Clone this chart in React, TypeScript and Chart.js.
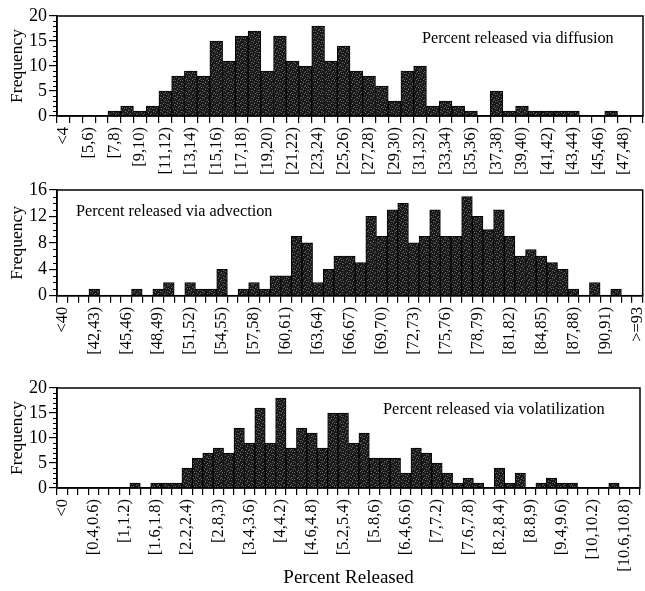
import React, { useEffect, useRef } from "react";
import { Chart, registerables } from "chart.js";

Chart.register(...registerables);

// ---------------- data ----------------
const diffusionCategories = [
  "<4", "[4,5)", "[5,6)", "[6,7)", "[7,8)", "[8,9)", "[9,10)", "[10,11)", "[11,12)", "[12,13)",
  "[13,14)", "[14,15)", "[15,16)", "[16,17)", "[17,18)", "[18,19)", "[19,20)", "[20,21)", "[21,22)",
  "[22,23)", "[23,24)", "[24,25)", "[25,26)", "[26,27)", "[27,28)", "[28,29)", "[29,30)", "[30,31)",
  "[31,32)", "[32,33)", "[33,34)", "[34,35)", "[35,36)", "[36,37)", "[37,38)", "[38,39)", "[39,40)",
  "[40,41)", "[41,42)", "[42,43)", "[43,44)", "[44,45)", "[45,46)", "[46,47)", "[47,48)", ">=48",
];
const diffusionCounts = [
  0, 0, 0, 0, 1, 2, 1, 2, 5, 8,
  9, 8, 15, 11, 16, 17, 9, 16, 11, 10,
  18, 11, 14, 9, 8, 6, 3, 9, 10, 2,
  3, 2, 1, 0, 5, 1, 2, 1, 1, 1,
  1, 0, 0, 1, 0, 0,
];

const advectionCategories = [
  "<40", "[40,41)", "[41,42)", "[42,43)", "[43,44)", "[44,45)", "[45,46)", "[46,47)", "[47,48)",
  "[48,49)", "[49,50)", "[50,51)", "[51,52)", "[52,53)", "[53,54)", "[54,55)", "[55,56)", "[56,57)",
  "[57,58)", "[58,59)", "[59,60)", "[60,61)", "[61,62)", "[62,63)", "[63,64)", "[64,65)", "[65,66)",
  "[66,67)", "[67,68)", "[68,69)", "[69,70)", "[70,71)", "[71,72)", "[72,73)", "[73,74)", "[74,75)",
  "[75,76)", "[76,77)", "[77,78)", "[78,79)", "[79,80)", "[80,81)", "[81,82)", "[82,83)", "[83,84)",
  "[84,85)", "[85,86)", "[86,87)", "[87,88)", "[88,89)", "[89,90)", "[90,91)", "[91,92)", "[92,93)",
  ">=93",
];
const advectionCounts = [
  0, 0, 0, 1, 0, 0, 0, 1, 0, 1,
  2, 0, 2, 1, 1, 4, 0, 1, 2, 1,
  3, 3, 9, 8, 2, 4, 6, 6, 5, 12,
  9, 13, 14, 8, 9, 13, 9, 9, 15, 12,
  10, 13, 9, 6, 7, 6, 5, 4, 1, 0,
  2, 0, 1, 0, 0,
];

const volatilizationCategories = [
  "<0", "[0,0.2)", "[0.2,0.4)", "[0.4,0.6)", "[0.6,0.8)", "[0.8,1)", "[1,1.2)", "[1.2,1.4)",
  "[1.4,1.6)", "[1.6,1.8)", "[1.8,2)", "[2,2.2)", "[2.2,2.4)", "[2.4,2.6)", "[2.6,2.8)", "[2.8,3)",
  "[3,3.2)", "[3.2,3.4)", "[3.4,3.6)", "[3.6,3.8)", "[3.8,4)", "[4,4.2)", "[4.2,4.4)", "[4.4,4.6)",
  "[4.6,4.8)", "[4.8,5)", "[5,5.2)", "[5.2,5.4)", "[5.4,5.6)", "[5.6,5.8)", "[5.8,6)", "[6,6.2)",
  "[6.2,6.4)", "[6.4,6.6)", "[6.6,6.8)", "[6.8,7)", "[7,7.2)", "[7.2,7.4)", "[7.4,7.6)", "[7.6,7.8)",
  "[7.8,8)", "[8,8.2)", "[8.2,8.4)", "[8.4,8.6)", "[8.6,8.8)", "[8.8,9)", "[9,9.2)", "[9.2,9.4)",
  "[9.4,9.6)", "[9.6,9.8)", "[9.8,10)", "[10,10.2)", "[10.2,10.4)", "[10.4,10.6)", "[10.6,10.8)",
  ">=10.8",
];
const volatilizationCounts = [
  0, 0, 0, 0, 0, 0, 0, 1, 0, 1,
  1, 1, 4, 6, 7, 8, 7, 12, 9, 16,
  9, 18, 8, 12, 11, 8, 15, 15, 9, 11,
  6, 6, 6, 3, 8, 7, 5, 3, 1, 2,
  1, 0, 4, 1, 3, 0, 1, 2, 1, 1,
  0, 0, 0, 1, 0, 0,
];

const panelTitles = [
  "Percent released via diffusion",
  "Percent released via advection",
  "Percent released via volatilization",
];
const yAxisTitle = "Frequency";
const xAxisTitle = "Percent Released";

// ---------------- styling ----------------
const SERIF = "'Liberation Serif', 'Times New Roman', serif";

function makeBarPattern(ctx: CanvasRenderingContext2D) {
  const c = document.createElement("canvas");
  c.width = 7;
  c.height = 7;
  const g = c.getContext("2d")!;
  g.fillStyle = "#181818";
  g.fillRect(0, 0, 7, 7);
  g.fillStyle = "#6a6a6a";
  const dots = [[1, 0], [4, 1], [0, 3], [5, 3], [2, 5], [6, 6], [3, 2]];
  dots.forEach(([x, y]) => g.fillRect(x, y, 1, 1));
  g.fillStyle = "#404040";
  [[6, 1], [2, 4], [4, 5], [0, 6]].forEach(([x, y]) => g.fillRect(x, y, 1, 1));
  return ctx.createPattern(c, "repeat");
}

type PanelSpec = {
  labels: string[];
  values: number[];
  every: number;
  yMax: number;
  yStep: number;
  padTop: number;
  padRight: number;
  xHeight: number;
  title: string;
  titleX: number;
  titleY: number;
  titleSize: number;
  showXTitle: boolean;
};

function buildConfig(canvas: HTMLCanvasElement, p: PanelSpec): any {
  const ctx = canvas.getContext("2d")!;
  const pattern = makeBarPattern(ctx);

  const framePlugin = {
    id: "frame" + p.title.length,
    afterDraw(chart: any) {
      const { ctx: c, chartArea: a, scales } = chart;
      c.save();
      c.strokeStyle = "#000";
      c.lineWidth = 1.5;
      c.strokeRect(a.left, a.top, a.right - a.left, a.bottom - a.top);
      const y = scales.y;
      c.lineWidth = 1;
      for (let v = 0; v <= p.yMax; v += 1) {
        if (v % p.yStep === 0) continue;
        const py = Math.round(y.getPixelForValue(v)) + 0.5;
        c.beginPath();
        c.moveTo(a.left - 4, py);
        c.lineTo(a.left, py);
        c.stroke();
      }
      c.fillStyle = "#000";
      c.font = `${p.titleSize}px ${SERIF}`;
      c.textAlign = "left";
      c.textBaseline = "alphabetic";
      c.fillText(p.title, p.titleX, p.titleY);
      c.restore();
    },
  };

  return {
    type: "bar",
    data: {
      labels: p.labels,
      datasets: [
        {
          data: p.values,
          backgroundColor: pattern,
          borderColor: "#000",
          borderWidth: 1,
          borderSkipped: "start",
          barPercentage: 1,
          categoryPercentage: 1,
        },
      ],
    },
    options: {
      responsive: false,
      animation: false,
      layout: { padding: { top: p.padTop, right: p.padRight, left: 0, bottom: 0 } },
      plugins: { legend: { display: false }, tooltip: { enabled: false } },
      scales: {
        x: {
          offset: true,
          grid: {
            display: true,
            drawOnChartArea: false,
            drawTicks: true,
            tickLength: 7,
            color: "#000",
            lineWidth: 1.2,
            offset: true,
          },
          border: { display: true, color: "#000", width: 1.5 },
          ticks: {
            autoSkip: false,
            minRotation: 90,
            maxRotation: 90,
            padding: 4,
            color: "#000",
            font: { family: SERIF, size: 16.5 },
            callback: (_v: any, i: number) => (i % p.every === 0 ? p.labels[i] : ""),
          },
          title: {
            display: p.showXTitle,
            text: xAxisTitle,
            color: "#000",
            font: { family: SERIF, size: 19 },
            padding: { top: 4, bottom: 2 },
          },
          afterFit: (s: any) => {
            s.height = p.xHeight;
            s.paddingLeft = 0;
            s.paddingRight = 0;
          },
        },
        y: {
          min: 0,
          max: p.yMax,
          ticks: {
            stepSize: p.yStep,
            autoSkip: false,
            padding: 2,
            color: "#000",
            font: { family: SERIF, size: 18 },
          },
          grid: {
            drawOnChartArea: false,
            drawTicks: true,
            tickLength: 8,
            color: "#000",
            lineWidth: 1.2,
          },
          border: { display: true, color: "#000", width: 1.5 },
          title: {
            display: true,
            text: yAxisTitle,
            color: "#000",
            font: { family: SERIF, size: 17.5 },
            padding: { top: 7, bottom: 0 },
          },
          afterFit: (s: any) => {
            s.width = 57;
            s.paddingTop = 0;
            s.paddingBottom = 0;
          },
        },
      },
    },
    plugins: [framePlugin],
  };
}

const PANELS: (PanelSpec & { top: number; height: number })[] = [
  {
    top: 0, height: 183,
    labels: diffusionCategories, values: diffusionCounts, every: 2,
    yMax: 20, yStep: 5, padTop: 16, padRight: 2, xHeight: 67,
    title: panelTitles[0], titleX: 422, titleY: 43, titleSize: 16.2, showXTitle: false,
  },
  {
    top: 180, height: 198,
    labels: advectionCategories, values: advectionCounts, every: 3,
    yMax: 16, yStep: 4, padTop: 10, padRight: 2.3, xHeight: 82.3,
    title: panelTitles[1], titleX: 76, titleY: 35.7, titleSize: 16.2, showXTitle: false,
  },
  {
    top: 378, height: 213,
    labels: volatilizationCategories, values: volatilizationCounts, every: 3,
    yMax: 20, yStep: 5, padTop: 10, padRight: 5, xHeight: 103,
    title: panelTitles[2], titleX: 383, titleY: 36.3, titleSize: 16.4, showXTitle: true,
  },
];

export default function App() {
  const r0 = useRef<HTMLCanvasElement>(null);
  const r1 = useRef<HTMLCanvasElement>(null);
  const r2 = useRef<HTMLCanvasElement>(null);
  const refs = [r0, r1, r2];

  useEffect(() => {
    const charts = PANELS.map((p, i) => {
      const cv = refs[i].current!;
      return new Chart(cv, buildConfig(cv, p));
    });
    return () => charts.forEach((c) => c.destroy());
  }, []);

  return (
    <div
      style={{
        position: "absolute",
        left: 0,
        top: 0,
        width: 645,
        height: 591,
        background: "#fff",
        overflow: "hidden",
      }}
    >
      {PANELS.map((p, i) => (
        <canvas
          key={i}
          ref={refs[i]}
          width={645}
          height={p.height}
          style={{ position: "absolute", left: 0, top: p.top, width: 645, height: p.height }}
        />
      ))}
    </div>
  );
}
